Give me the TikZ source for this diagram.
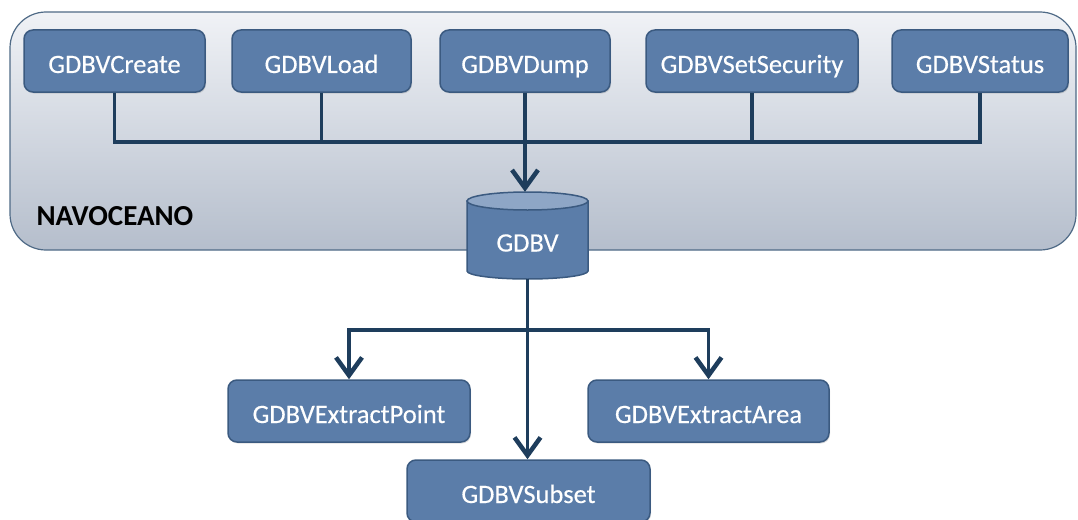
\documentclass[tikz,border=0pt]{standalone}
\usepackage{fontspec}
\setmainfont{Carlito}
\newfontfamily\boxfont{Carlito}[FakeBold=0.35]
\usetikzlibrary{arrows.meta,shadows}
\definecolor{boxfill}{HTML}{5B7DA9}
\definecolor{boxedge}{HTML}{3B5A80}
\definecolor{cyltop}{HTML}{8EA6C6}
\definecolor{wirecol}{HTML}{1E3D5C}
\definecolor{panelTop}{HTML}{F0F2F6}
\definecolor{panelBot}{HTML}{B5BECC}
\definecolor{panelEdge}{HTML}{4F6A86}
\begin{document}
\begin{tikzpicture}[x=1pt,y=-1pt,
  fn/.style={draw=boxedge, line width=1.5pt, fill=boxfill, rounded corners=9pt,
    text=white, font=\boxfont\fontsize{26.5}{28}\selectfont, inner sep=0pt,
    minimum height=62pt, text height=24pt, text depth=0pt,
    drop shadow={opacity=0.25, shadow xshift=1pt, shadow yshift=-1.5pt}},
  wire/.style={draw=wirecol, line width=3.5pt},
  arr/.style={wire, -{Straight Barb[length=18pt,width=26pt,line width=4.5pt]}}]
\useasboundingbox (0,0) rectangle (1078,519);
% panel
\shade[top color=panelTop, bottom color=panelBot, draw=panelEdge, line width=1.2pt,
  rounded corners=36pt] (10,12) rectangle (1076,250);
\node[anchor=west, font=\fontsize{29}{30}\selectfont\bfseries, text=black] (navo) at (33,216) {NAVOCEANO};
% top boxes
\node[fn, minimum width=181pt] (create) at (114.5,61) {GDBVCreate};
\node[fn, minimum width=179pt] (load) at (321.5,61) {GDBVLoad};
\node[fn, minimum width=170pt] (dump) at (525,61) {GDBVDump};
\node[fn, minimum width=212pt] (setsec) at (752,61) {GDBVSetSecurity};
\node[fn, minimum width=176pt] (status) at (980,61) {GDBVStatus};
% cylinder
\fill[boxfill, draw=boxedge, line width=1.5pt] (467,201) -- (467,271)
  arc[x radius=60.5pt, y radius=8pt, start angle=180, end angle=360] -- (588,201) -- cycle;
\fill[cyltop, draw=boxedge, line width=1.5pt] (527.5,201) ellipse[x radius=60.5pt, y radius=9pt];
\node[minimum width=121pt, minimum height=87pt, inner sep=0pt] (gdbv) at (527.5,235.5) {};
\node[text=white, font=\boxfont\fontsize{26.5}{28}\selectfont] (gdbvlabel) at (527.5,243) {GDBV};
% bottom boxes
\node[fn, minimum width=242pt] (ept) at (349,411) {GDBVExtractPoint};
\node[fn, minimum width=241pt] (earea) at (708.5,411) {GDBVExtractArea};
\node[fn, minimum width=243pt] (sub) at (528.5,491) {GDBVSubset};
% top connectors
\coordinate (bus) at (527,142);
\draw[wire] (create.south) |- (bus) -| (status.south);
\draw[wire] (load.south) -- (load.south |- bus);
\draw[wire] (setsec.south) -- (setsec.south |- bus);
\draw[arr] (dump.south) -- (dump.south |- gdbv.north);
% bottom connectors
\coordinate (split) at (527.5,330);
\draw[wire] (gdbv.south) -- (split);
\draw[arr] (split) -| (ept.north);
\draw[arr] (split) -| (earea.north);
\draw[arr] (gdbv.south) -- (gdbv.south |- sub.north);
\end{tikzpicture}
\end{document}
